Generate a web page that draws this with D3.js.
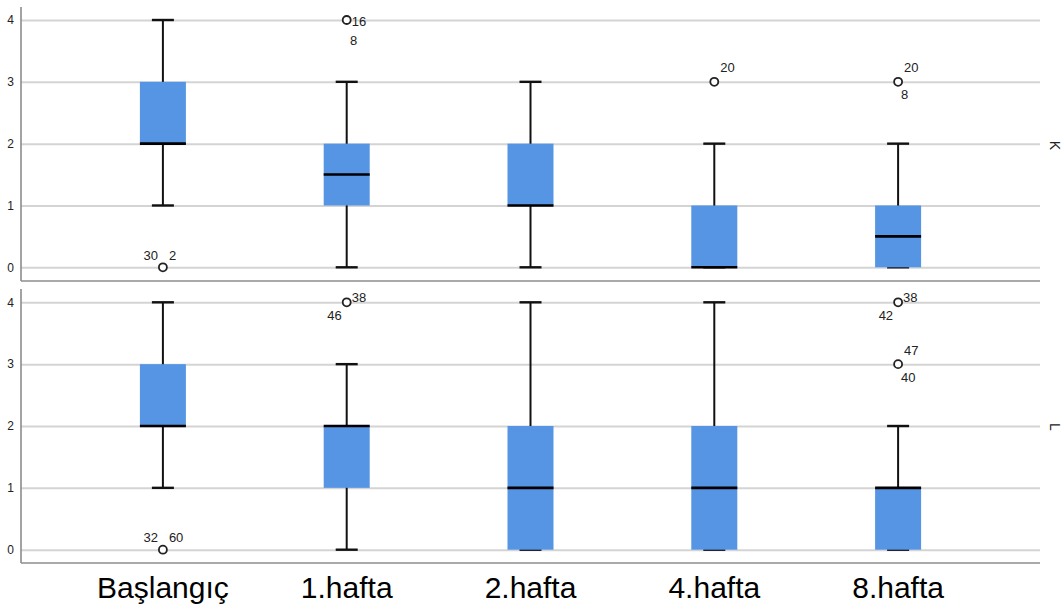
<!DOCTYPE html>
<html>
<head>
<meta charset="utf-8">
<script src="https://cdn.jsdelivr.net/npm/d3@7"></script>
<style>
    body { margin: 0; background: #fff; }
    svg { display: block; font-family: Arial, 'Liberation Sans', sans-serif; }
</style>
</head>
<body>
<div id="chart"></div>
<script>
const categories = ['Başlangıç', '1.hafta', '2.hafta', '4.hafta', '8.hafta']
const yTicks = [0, 1, 2, 3, 4]
const panelNames = ['K', 'L']

// [min, q1, median, q3, max] per category
const boxesK = [
    [1, 2, 2, 3, 4],
    [0, 1, 1.5, 2, 3],
    [0, 1, 1, 2, 3],
    [0, 0, 0, 1, 2],
    [0, 0, 0.5, 1, 2]
]
const boxesL = [
    [1, 2, 2, 3, 4],
    [0, 1, 2, 2, 3],
    [0, 0, 1, 2, 4],
    [0, 0, 1, 2, 4],
    [0, 0, 1, 1, 2]
]

// outliers: category, value, case labels with where they sit round the point
const outliersK = [
    { cat: 'Başlangıç', value: 0, labels: [['30', 'nw'], ['2', 'ne']] },
    { cat: '1.hafta', value: 4, labels: [['16', 'e'], ['8', 's']] },
    { cat: '4.hafta', value: 3, labels: [['20', 'nne']] },
    { cat: '8.hafta', value: 3, labels: [['20', 'nne'], ['8', 'se']] }
]
const outliersL = [
    { cat: 'Başlangıç', value: 0, labels: [['32', 'nw'], ['60', 'ne']] },
    { cat: '1.hafta', value: 4, labels: [['38', 'ene'], ['46', 'wsw']] },
    { cat: '8.hafta', value: 4, labels: [['38', 'ene'], ['42', 'wsw']] },
    { cat: '8.hafta', value: 3, labels: [['47', 'nne'], ['40', 'se']] }
]

const width = 1061
const height = 610
const left = 21
const right = 1040
const boxFill = '#5595e4'

const placement = {
    nw: { dx: -5, dy: -12, anchor: 'end' },
    ne: { dx: 6, dy: -12, anchor: 'start' },
    nne: { dx: 6, dy: -14, anchor: 'start' },
    e: { dx: 5, dy: 1, anchor: 'start' },
    ene: { dx: 5, dy: -5, anchor: 'start' },
    s: { dx: 7, dy: 20, anchor: 'middle' },
    se: { dx: 3, dy: 13, anchor: 'start' },
    wsw: { dx: -5, dy: 13, anchor: 'end' }
}

const panels = [
    { name: panelNames[0], boxes: boxesK, outliers: outliersK, y0: 267.3, y4: 20, top: 7, bottom: 281 },
    { name: panelNames[1], boxes: boxesL, outliers: outliersL, y0: 549.7, y4: 302.3, top: 289, bottom: 563 }
]

const svg = d3.select('#chart').append('svg').attr('width', width).attr('height', height)

const x = d3.scaleBand().domain(categories).range([71, 990])
const boxW = 46
const capW = 22

panels.forEach((p) => {
    const y = d3.scaleLinear().domain([0, 4]).range([p.y0, p.y4])
    const g = svg.append('g')

    // grid lines
    const grid = g.append('g').attr('transform', `translate(${left},0)`)
        .call(d3.axisLeft(y).tickValues(yTicks).tickSize(-(right - left)).tickFormat(''))
    grid.select('.domain').remove()
    grid.selectAll('line').attr('stroke', '#d4d4d4').attr('stroke-width', 2)

    // tick labels
    const yAxis = g.append('g').attr('transform', `translate(${left},0)`)
        .call(d3.axisLeft(y).tickValues(yTicks).tickSize(0).tickPadding(7).tickFormat(d3.format('d')))
    yAxis.select('.domain').remove()
    yAxis.selectAll('text').style('font-size', '12px').attr('fill', '#222')

    // frame
    g.append('line').attr('x1', left).attr('x2', left).attr('y1', p.top).attr('y2', p.bottom)
        .attr('stroke', '#8c8c8c').attr('stroke-width', 1.6)
    g.append('line').attr('x1', left).attr('x2', right).attr('y1', p.bottom).attr('y2', p.bottom)
        .attr('stroke', '#8c8c8c').attr('stroke-width', 1.6)

    const items = g.selectAll('g.box').data(p.boxes).enter().append('g').attr('class', 'box')
        .attr('transform', (d, i) => `translate(${x(categories[i]) + x.bandwidth() / 2},0)`)

    // whiskers
    items.append('line').attr('y1', (d) => y(d[0])).attr('y2', (d) => y(d[4]))
        .attr('stroke', '#111').attr('stroke-width', 2)
    items.append('line').attr('x1', -capW / 2).attr('x2', capW / 2)
        .attr('y1', (d) => y(d[0])).attr('y2', (d) => y(d[0]))
        .attr('stroke', '#111').attr('stroke-width', 2.4)
    items.append('line').attr('x1', -capW / 2).attr('x2', capW / 2)
        .attr('y1', (d) => y(d[4])).attr('y2', (d) => y(d[4]))
        .attr('stroke', '#111').attr('stroke-width', 2.4)

    // box
    items.append('rect').attr('x', -boxW / 2).attr('width', boxW)
        .attr('y', (d) => y(d[3])).attr('height', (d) => y(d[1]) - y(d[3]))
        .attr('fill', boxFill)

    // median
    items.append('line').attr('x1', -boxW / 2).attr('x2', boxW / 2)
        .attr('y1', (d) => y(d[2])).attr('y2', (d) => y(d[2]))
        .attr('stroke', '#000').attr('stroke-width', 2.6)

    // outliers
    p.outliers.forEach((o) => {
        const cx = x(o.cat) + x.bandwidth() / 2
        const cy = y(o.value)
        g.append('circle').attr('cx', cx).attr('cy', cy).attr('r', 4)
            .attr('fill', '#fff').attr('stroke', '#222').attr('stroke-width', 1.8)
        o.labels.forEach(([t, pos]) => {
            const pl = placement[pos]
            g.append('text').attr('x', cx + pl.dx).attr('y', cy + pl.dy).attr('dy', '0.35em')
                .attr('text-anchor', pl.anchor).style('font-size', '13px').attr('fill', '#222').text(t)
        })
    })

    // panel label on the right, rotated
    g.append('text').attr('transform', `translate(1050,${y(2) - 3}) rotate(90)`)
        .style('font-size', '14px').attr('fill', '#222').text(p.name)
})

// category labels
const xAxis = svg.append('g').attr('transform', `translate(0,598)`)
    .call(d3.axisBottom(x).tickSize(0).tickPadding(0))
xAxis.select('.domain').remove()
xAxis.selectAll('text').style('font-size', '30px').attr('fill', '#000').attr('y', 0).attr('dy', 0)
</script>
</body>
</html>
